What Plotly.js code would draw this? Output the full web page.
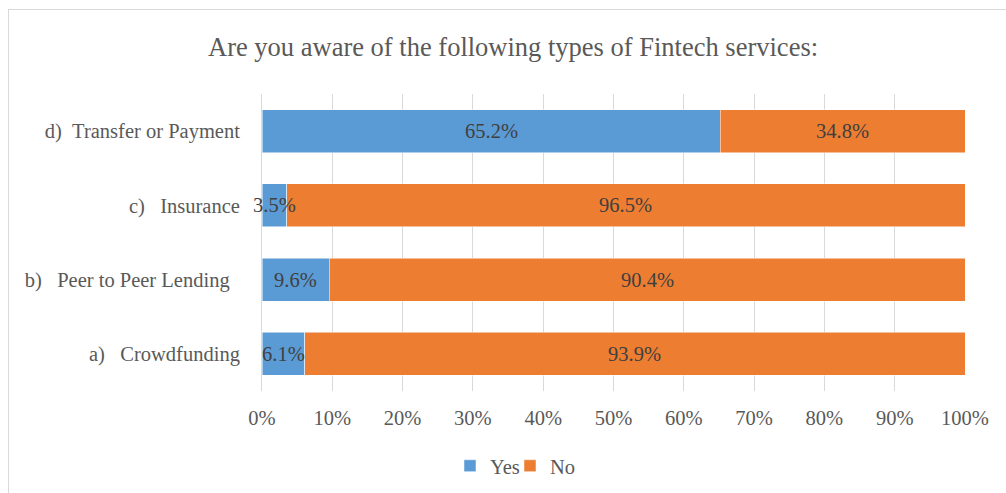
<!DOCTYPE html>
<html><head><meta charset="utf-8">
<script src="https://cdn.plot.ly/plotly-3.0.1.min.js"></script>
<style>
body{margin:0;padding:0;background:#fff;}
#frame{position:absolute;left:8px;top:9px;width:1010px;height:500px;border:1.5px solid #d9d9d9;box-sizing:border-box;}
#chart{position:absolute;left:0;top:0;width:1006px;height:493px;}
</style></head>
<body>
<div id="frame"></div>
<div id="chart"></div>
<script>
const categories = ["a)\u00a0\u00a0\u00a0Crowdfunding", "b)\u00a0\u00a0\u00a0Peer to Peer Lending\u00a0\u00a0", "c)\u00a0\u00a0\u00a0Insurance", "d)\u00a0\u00a0Transfer or Payment"];
const yesValues = [6.1, 9.6, 3.5, 65.2];
const noValues = [93.9, 90.4, 96.5, 34.8];
const xTicks = [0,10,20,30,40,50,60,70,80,90,100];
const xTickLabels = xTicks.map(v => v + "%");

const font = "Liberation Serif, Times New Roman, serif";
const fs = 20.5;
const traces = [
  {type:'bar', orientation:'h', name:'Yes', y:categories, x:yesValues, legend:'legend',
   marker:{color:'#5b9bd5', line:{color:'#ffffff', width:0.5}}, width:0.58, textposition:'none', hoverinfo:'x'},
  {type:'bar', orientation:'h', name:'No', y:categories, x:noValues, legend:'legend2',
   marker:{color:'#ed7d31', line:{color:'#ffffff', width:0.5}}, width:0.58, textposition:'none', hoverinfo:'x'}
];
const annotations = [];
categories.forEach((c,i) => {
  annotations.push({x: yesValues[i]/2, y: c, xref:'x', yref:'y', text: yesValues[i].toFixed(1)+'%', showarrow:false, font:{family:font, size:fs, color:'#404040'}});
  annotations.push({x: yesValues[i] + noValues[i]/2, y: c, xref:'x', yref:'y', text: noValues[i].toFixed(1)+'%', showarrow:false, font:{family:font, size:fs, color:'#404040'}});
});
const legendBase = {orientation:'h', xref:'container', yref:'container', xanchor:'left', yanchor:'middle', y:0.055, font:{family:font, size:fs, color:'#595959'}, itemwidth:30, bgcolor:'rgba(0,0,0,0)'};
const layout = {
  width:1006, height:493,
  paper_bgcolor:'rgba(0,0,0,0)', plot_bgcolor:'rgba(0,0,0,0)',
  margin:{l:262, r:41, t:94, b:102},
  barmode:'stack',
  font:{family:font, size:fs, color:'#595959'},
  title:{text:'Are you aware of the following types of Fintech services:', font:{family:font, size:26.5, color:'#595959'}, x:0.51, xref:'container', y:0.905, yref:'container', xanchor:'center', yanchor:'middle'},
  xaxis:{range:[0,100], tickvals:xTicks, ticktext:xTickLabels, showgrid:true, gridcolor:'#d9d9d9', gridwidth:1, zeroline:false, showline:false, ticks:'', ticklabelstandoff:12, automargin:false, fixedrange:true, tickfont:{family:font, size:fs, color:'#595959'}},
  yaxis:{categoryorder:'array', categoryarray:categories, showgrid:false, zeroline:false, showline:true, linecolor:'#d9d9d9', linewidth:1, ticks:'', ticklabelstandoff:17, automargin:false, tickfont:{family:font, size:fs, color:'#595959'}},
  showlegend:true,
  legend:Object.assign({}, legendBase, {x:(467-17)/1006}),
  legend2:Object.assign({}, legendBase, {x:(527-17)/1006}),
  annotations:annotations
};
Plotly.newPlot('chart', traces, layout, {displayModeBar:false, staticPlot:true});
</script>
</body></html>
